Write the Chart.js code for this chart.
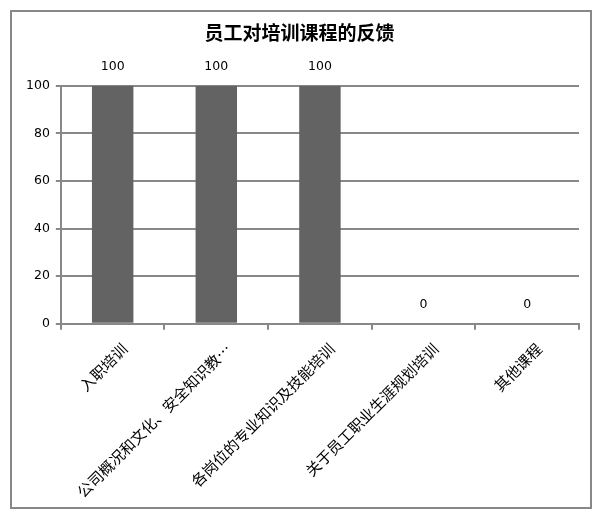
<!DOCTYPE html>
<html>
<head>
<meta charset="utf-8">
<script src="https://cdn.jsdelivr.net/npm/chart.js@4"></script>
<style>
  body { margin: 0; background: #fff; }
  #wrap { position: relative; width: 600px; height: 517px; }
  #frame { position: absolute; left: 10px; top: 10px; width: 578px; height: 495px; border: 2px solid #888; }
  canvas { position: absolute; left: 0; top: 0; }
</style>
</head>
<body>
<div id="wrap">
  <div id="frame"></div>
  <canvas id="chart" width="600" height="517"></canvas>
</div>
<script>
const categories = [
  "入职培训",
  "公司概况和文化、安全知识教…",
  "各岗位的专业知识及技能培训",
  "关于员工职业生涯规划培训",
  "其他课程"
];
const values = [100, 100, 100, 0, 0];
const yTicks = [0, 20, 40, 60, 80, 100];

const numFont = "'DejaVu Sans', sans-serif";
const cjkFont = "'Noto Sans CJK SC', sans-serif";

// VALUE LABELS ABOVE BARS
const valueLabels = {
  id: "valueLabels",
  afterDatasetsDraw(chart) {
    const ctx = chart.ctx;
    ctx.save();
    ctx.font = "12.5px " + numFont;
    ctx.fillStyle = "#000";
    ctx.textAlign = "center";
    ctx.textBaseline = "middle";
    chart.getDatasetMeta(0).data.forEach((bar, i) => {
      ctx.fillText(String(values[i]), bar.x, bar.y - 19);
    });
    ctx.restore();
  }
};

new Chart(document.getElementById("chart"), {
  type: "bar",
  data: {
    labels: categories,
    datasets: [{
      data: values,
      backgroundColor: "#636363",
      categoryPercentage: 1,
      barPercentage: 0.4
    }]
  },
  options: {
    responsive: false,
    animation: false,
    layout: { padding: { left: 20, right: 21, top: 19, bottom: 6 } },
    plugins: {
      legend: { display: false },
      tooltip: { enabled: false },
      title: {
        display: true,
        text: "员工对培训课程的反馈",
        color: "#000",
        font: { family: cjkFont, size: 19, weight: "bold" },
        padding: { top: 2, bottom: 42 }
      }
    },
    scales: {
      x: {
        grid: {
          drawOnChartArea: false,
          color: "#888",
          tickLength: 6,
          lineWidth: 2
        },
        border: { color: "#888", width: 2 },
        ticks: {
          color: "#000",
          font: { family: cjkFont, size: 15 },
          minRotation: 45,
          maxRotation: 45,
          padding: 10,
          labelOffset: 12
        }
      },
      y: {
        min: 0,
        max: 100,
        afterBuildTicks(axis) {
          axis.ticks = yTicks.map(v => ({ value: v }));
        },
        grid: {
          color: "#888",
          lineWidth: 2,
          tickLength: 5
        },
        border: { color: "#888", width: 2 },
        ticks: {
          color: "#000",
          font: { family: numFont, size: 12.5 },
          padding: 6
        }
      }
    }
  },
  plugins: [valueLabels]
});
</script>
</body>
</html>
